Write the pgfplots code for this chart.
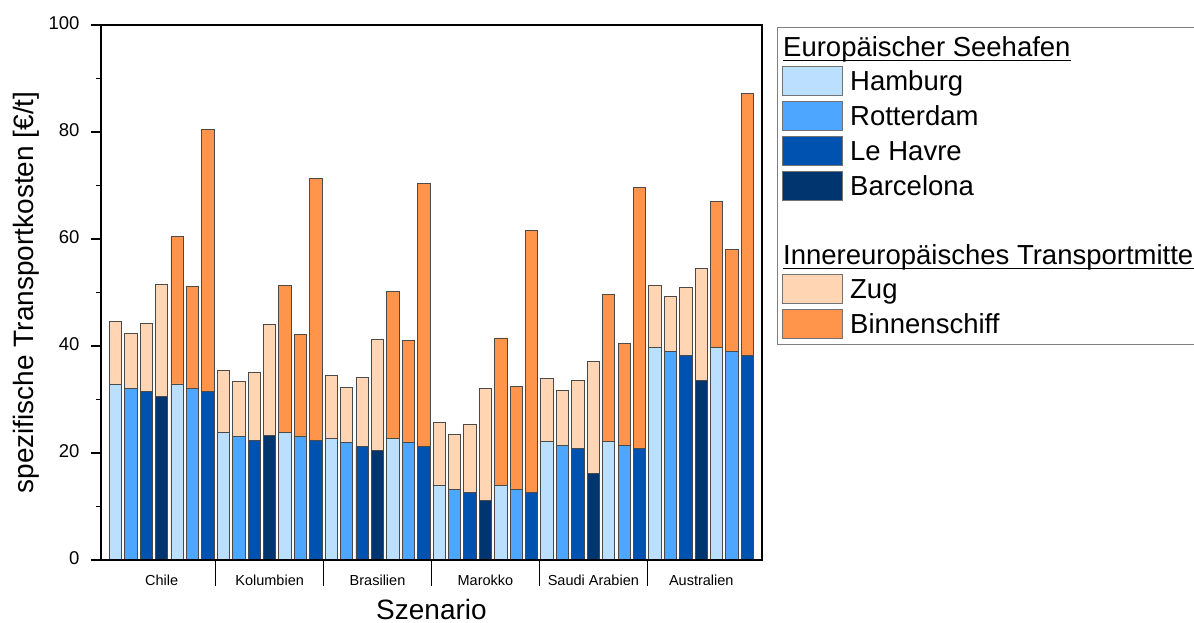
\documentclass[border=0pt]{standalone}
\usepackage{pgfplots}
\pgfplotsset{compat=1.18}
\usepackage{fontspec}
\setmainfont{Liberation Sans}
\definecolor{hamb}{HTML}{BADFFF}
\definecolor{rott}{HTML}{4DA6FF}
\definecolor{havr}{HTML}{0052B0}
\definecolor{barc}{HTML}{003570}
\definecolor{zug}{HTML}{FFD5B3}
\definecolor{binn}{HTML}{FF944A}
\definecolor{edge}{HTML}{4A4A4A}
\newcommand\ul[1]{\setbox0\hbox{#1}\rlap{\rule[-5pt]{\wd0}{1.3pt}}\box0}
\begin{document}
\begin{tikzpicture}
\begin{axis}[
  scale only axis, width=661pt, height=535pt,
  at={(0pt,0pt)}, anchor=south west,
  xmin=-0.94, xmax=41.94, ymin=0, ymax=100,
  axis on top,
  axis line style={line width=1.3pt},
  tick align=outside, xtick pos=bottom, ytick pos=left,
  ytick={0,20,40,60,80,100}, minor ytick={10,30,50,70,90},
  major tick length=10pt, minor tick length=5pt,
  every tick/.style={black, line width=1.3pt},
  /pgf/number format/assume math mode=true,
  yticklabel style={font=\fontsize{18.5}{21}\selectfont, xshift=-8pt, yshift=1.5pt},
  xtick={3,10,17,24,31,38},
  xticklabels={Chile,Kolumbien,Brasilien,Marokko,Saudi Arabien,Australien},
  xtick style={draw=none},
  xticklabel style={font=\fontsize{14.5}{17}\selectfont, anchor=base, yshift=-15.5pt},
  extra x ticks={6.5,13.5,20.5,27.5,34.5},
  extra x tick labels={},
  extra x tick style={xtick style={draw=black, line width=1.3pt}, major tick length=26pt},
  ylabel={spezifische Transportkosten [€/t]},
  every axis y label/.style={at={(axis description cs:-0.1024,0.5)}, rotate=90, anchor=base, font=\fontsize{28}{32}\selectfont},
  xlabel={Szenario},
  every axis x label/.style={at={(axis description cs:0.5,-0.1103)}, anchor=base, font=\fontsize{28}{32}\selectfont},
  legend cell align=left,
  legend image code/.code={\draw[#1] (0pt,-14.5pt) rectangle (60pt,14.5pt);},
  legend style={at={(axis description cs:1.0222,0.9968)}, anchor=north west,
    draw=black!50, line width=1pt, inner xsep=5pt, inner ysep=5pt, row sep=5pt,
    font=\fontsize{27.5}{33}\selectfont,
    nodes={inner sep=0pt, text height=24pt, text depth=5pt},
    /tikz/every odd column/.append style={column sep=7pt}},
]
% full bar heights (port + inland transport)
\addplot[ybar, bar width=0.8, bar shift=0pt, fill=binn, draw=edge, line width=0.9pt, forget plot] coordinates {
 (4,60.4) (5,51.2) (6,80.4) (11,51.3) (12,42.1) (13,71.4) (18,50.2) (19,41.1) (20,70.3)
 (25,41.5) (26,32.4) (27,61.6) (32,49.7) (33,40.5) (34,69.7) (39,67.1) (40,58.0) (41,87.2)};
\addplot[ybar, bar width=0.8, bar shift=0pt, fill=zug, draw=edge, line width=0.9pt, forget plot] coordinates {
 (0,44.5) (1,42.4) (2,44.2) (3,51.5) (7,35.5) (8,33.3) (9,35.1) (10,44.0)
 (14,34.5) (15,32.3) (16,34.1) (17,41.2) (21,25.7) (22,23.4) (23,25.3) (24,32.1)
 (28,33.9) (29,31.7) (30,33.5) (31,37.1) (35,51.3) (36,49.2) (37,50.9) (38,54.5)};
% seaport share
\addplot[ybar, bar width=0.8, bar shift=0pt, fill=hamb, draw=edge, line width=0.9pt, forget plot] coordinates {
 (0,32.9) (4,32.9) (7,23.8) (11,23.8) (14,22.8) (18,22.8) (21,14.0) (25,14.0) (28,22.2) (32,22.2) (35,39.8) (39,39.8)};
\addplot[ybar, bar width=0.8, bar shift=0pt, fill=rott, draw=edge, line width=0.9pt, forget plot] coordinates {
 (1,32.1) (5,32.1) (8,23.1) (12,23.1) (15,22.0) (19,22.0) (22,13.2) (26,13.2) (29,21.4) (33,21.4) (36,38.9) (40,38.9)};
\addplot[ybar, bar width=0.8, bar shift=0pt, fill=havr, draw=edge, line width=0.9pt, forget plot] coordinates {
 (2,31.5) (6,31.5) (9,22.4) (13,22.4) (16,21.3) (20,21.3) (23,12.6) (27,12.6) (30,20.8) (34,20.8) (37,38.3) (41,38.3)};
\addplot[ybar, bar width=0.8, bar shift=0pt, fill=barc, draw=edge, line width=0.9pt, forget plot] coordinates {
 (3,30.5) (10,23.2) (17,20.4) (24,11.1) (31,16.1) (38,33.6)};
% legend
\addlegendimage{empty legend}
\addlegendentry{\hspace*{-67pt}\ul{Europäischer Seehafen}}
\addlegendimage{fill=hamb, draw=black!55}
\addlegendentry{Hamburg}
\addlegendimage{fill=rott, draw=black!55}
\addlegendentry{Rotterdam}
\addlegendimage{fill=havr, draw=black!55}
\addlegendentry{Le Havre}
\addlegendimage{fill=barc, draw=black!55}
\addlegendentry{Barcelona}
\addlegendimage{empty legend}
\addlegendentry{}
\addlegendimage{empty legend}
\addlegendentry{\hspace*{-67pt}\ul{Innereuropäisches Transportmittel}}
\addlegendimage{fill=zug, draw=black!55}
\addlegendentry{Zug}
\addlegendimage{fill=binn, draw=black!55}
\addlegendentry{Binnenschiff}
\end{axis}
\pgfresetboundingbox
\useasboundingbox (-101pt,-63pt) rectangle (1093pt,560pt);
\end{tikzpicture}
\end{document}
